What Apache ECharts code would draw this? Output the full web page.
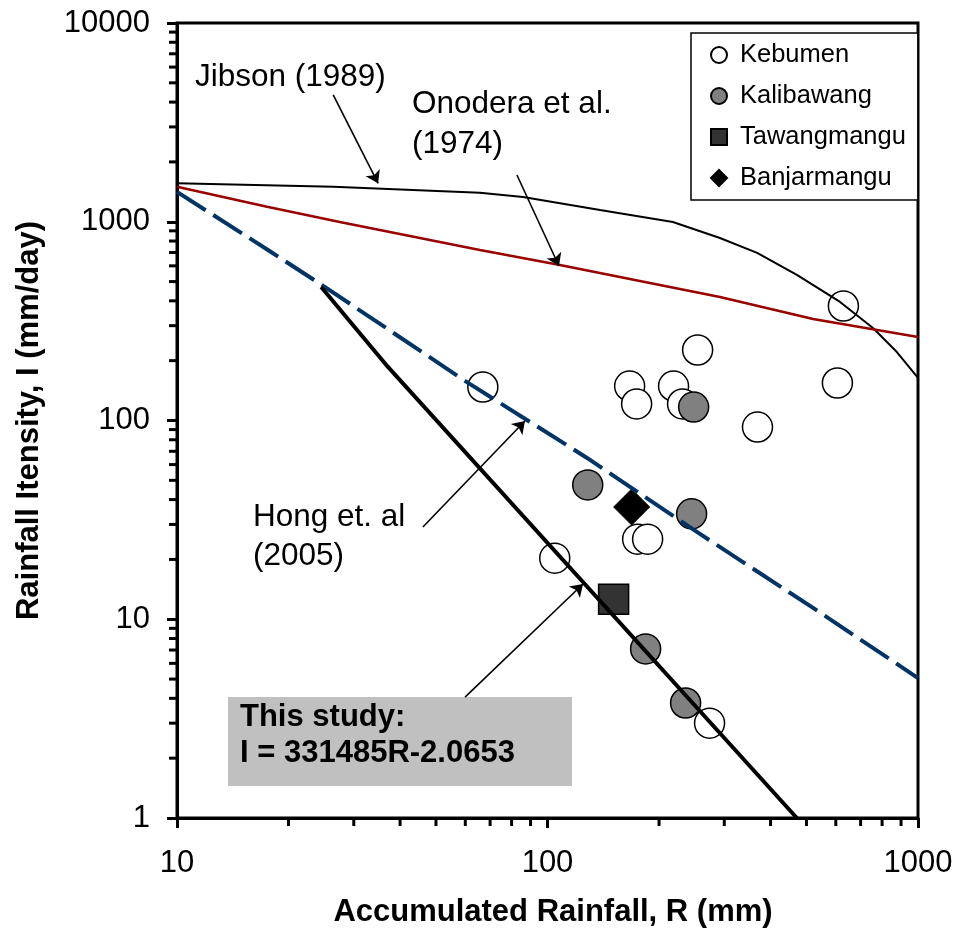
<!DOCTYPE html>
<html><head><meta charset="utf-8">
<script src="https://cdn.jsdelivr.net/npm/echarts@6/dist/echarts.min.js"></script>
<style>html,body{margin:0;padding:0;background:#fff}#c{width:957px;height:934px}</style>
</head><body><div id="c"></div>
<script>
const FONT = '"Liberation Sans", Arial, sans-serif';

// Observed points (R = accumulated rainfall mm, I = intensity mm/day)
const kebumenR = [66.9, 104.6, 166.6, 174.0, 218.9, 231.5, 254.2, 368.8, 606, 629, 175.1, 186.3, 273.8];
const kebumenI = [147.4, 20.3, 149.1, 121.1, 149.1, 121.1, 226.3, 92.7, 154.4, 376.8, 25.3, 25.3, 3.0];
const kalibawangR = [128.4, 244.9, 248, 184, 235.9];
const kalibawangI = [47.4, 33.9, 116.9, 7.09, 3.79];
const tawangmanguR = [150.8];
const tawangmanguI = [12.6];
const banjarmanguR = [168.7];
const banjarmanguI = [36.7];

// Threshold curves
const jibsonR = [10, 26.4, 65.7, 85.9, 138.6, 218, 292, 368, 471, 616, 756, 877, 1000];
const jibsonI = [1560, 1500, 1400, 1332, 1146, 997, 828, 697, 540, 395, 292, 221, 164];
const onoderaR = [10, 17.5, 27.5, 65.7, 108, 292, 521, 1000];
const onoderaI = [1500, 1190, 997, 721, 606, 418, 324, 263];
const hongR = [10, 17.6, 25.1, 60.6, 127.9, 253, 521, 1000];
const hongI = [1413, 721, 469, 156, 64.8, 27.5, 11.4, 5.06];
const studyR = [24.5, 37.1, 471];
const studyI = [470, 186, 1];

// Axis ticks
const xMajorTicks = [10, 100, 1000];
const yMajorTicks = [1, 10, 100, 1000, 10000];
const xMinorTicks = [20, 30, 40, 50, 60, 70, 80, 90, 200, 300, 400, 500, 600, 700, 800, 900];
const yMinorTicks = [2, 3, 4, 5, 6, 7, 8, 9, 20, 30, 40, 50, 60, 70, 80, 90,
  200, 300, 400, 500, 600, 700, 800, 900, 2000, 3000, 4000, 5000, 6000, 7000, 8000, 9000];

// Annotation arrows [fromR, fromI, toR, toI]
const arrowJibson = [26.4, 4345, 34.9, 1560];
const arrowOnodera = [82.7, 1718, 107.4, 599];
const arrowHong = [46.1, 29.1, 86.9, 99.4];
const arrowStudy = [59.9, 4.06, 124.7, 15.04];

const zip = (a, b) => a.map((v, i) => [v, b[i]]);
const arrowData = [arrowJibson, arrowOnodera, arrowHong, arrowStudy].map(a => [
  { coord: [a[0], a[1]] }, { coord: [a[2], a[3]] }
]);

const chart = echarts.init(document.getElementById('c'), null, { renderer: 'canvas' });
const axisTxt = { fontFamily: FONT, fontSize: 31, color: '#000', formatter: v => String(Math.round(v)) };

chart.setOption({
  animation: false,
  backgroundColor: '#fff',
  textStyle: { fontFamily: FONT },
  grid: { left: 177, right: 39, top: 23, bottom: 116, show: true, borderColor: '#000', borderWidth: 3 },
  xAxis: {
    type: 'log', logBase: 10, min: xMajorTicks[0], max: xMajorTicks[xMajorTicks.length - 1],
    axisLine: { lineStyle: { color: '#000', width: 3 } },
    axisTick: { inside: false, length: 10, lineStyle: { color: '#000', width: 3 } },
    axisLabel: Object.assign({ margin: 30, hideOverlap: false }, axisTxt),
    splitLine: { show: false },
    name: 'Accumulated Rainfall, R (mm)', nameLocation: 'middle', nameGap: 79,
    nameTextStyle: { fontFamily: FONT, fontSize: 31, fontWeight: 'bold', color: '#000', padding: [0, 0, 0, 11] }
  },
  yAxis: {
    type: 'log', logBase: 10, min: yMajorTicks[0], max: yMajorTicks[yMajorTicks.length - 1],
    axisLine: { lineStyle: { color: '#000', width: 3 } },
    axisTick: { inside: false, length: 10, lineStyle: { color: '#000', width: 3 } },
    axisLabel: Object.assign({ margin: 27, hideOverlap: false }, axisTxt),
    splitLine: { show: false },
    name: 'Rainfall Itensity, I (mm/day)', nameLocation: 'middle', nameGap: 132,
    nameTextStyle: { fontFamily: FONT, fontSize: 31, fontWeight: 'bold', color: '#000' }
  },
  legend: {
    orient: 'vertical', left: 691, top: 33, padding: [9, 12, 9, 19], itemGap: 15,
    itemWidth: 16, itemHeight: 16, backgroundColor: '#fff', borderColor: '#000', borderWidth: 1.5,
    selectedMode: false,
    textStyle: { fontFamily: FONT, fontSize: 25.5, color: '#000', lineHeight: 26, padding: [0, 0, 0, 8] },
    data: ['Kebumen', 'Kalibawang', 'Tawangmangu', 'Banjarmangu']
  },
  graphic: [
    { type: 'text', x: 195, y: 61, style: { text: 'Jibson (1989)', fontFamily: FONT, fontSize: 31.5, fill: '#000' } },
    { type: 'text', x: 412, y: 84, style: { text: 'Onodera et al.\n(1974)', fontFamily: FONT, fontSize: 31.5, lineHeight: 40, fill: '#000' } },
    { type: 'text', x: 253, y: 498, style: { text: 'Hong et. al\n(2005)', fontFamily: FONT, fontSize: 31.5, lineHeight: 39, fill: '#000' } },
    { type: 'rect', x: 228, y: 697, shape: { width: 344, height: 89 }, style: { fill: '#c0c0c0' } },
    { type: 'text', x: 240, y: 699, style: { text: 'This study:\nI = 331485R-2.0653', fontFamily: FONT, fontSize: 31, fontWeight: 'bold', lineHeight: 36, fill: '#000' } }
  ],
  series: [
    {
      type: 'line', data: zip(jibsonR, jibsonI), showSymbol: false, symbol: 'none', silent: true,
      lineStyle: { color: '#000', width: 2 },
      markLine: {
        silent: true, symbol: ['none', 'arrow'], symbolSize: 12,
        label: { show: false }, lineStyle: { color: '#000', width: 1.6, type: 'solid' },
        emphasis: { disabled: true }, data: arrowData
      }
    },
    { type: 'line', data: zip(onoderaR, onoderaI), symbol: 'none', silent: true, lineStyle: { color: '#990000', width: 2.5 } },
    { type: 'line', data: zip(hongR, hongI), symbol: 'none', silent: true, lineStyle: { color: '#003366', width: 4, type: [34, 9] } },
    { name: 'Kebumen', type: 'scatter', data: zip(kebumenR, kebumenI), symbol: 'circle', symbolSize: 30,
      itemStyle: { color: '#fff', borderColor: '#000', borderWidth: 1.5, opacity: 1 } },
    { name: 'Kalibawang', type: 'scatter', data: zip(kalibawangR, kalibawangI), symbol: 'circle', symbolSize: 30,
      itemStyle: { color: '#808080', borderColor: '#000', borderWidth: 1.5, opacity: 1 } },
    { name: 'Tawangmangu', type: 'scatter', data: zip(tawangmanguR, tawangmanguI), symbol: 'rect', symbolSize: 30,
      itemStyle: { color: '#333333', borderColor: '#000', borderWidth: 1.5, opacity: 1 } },
    { name: 'Banjarmangu', type: 'scatter', data: zip(banjarmanguR, banjarmanguI), symbol: 'diamond', symbolSize: 36,
      itemStyle: { color: '#000', borderColor: '#000', borderWidth: 1, opacity: 1 } },
    { type: 'line', data: zip(studyR, studyI), symbol: 'none', silent: true, lineStyle: { color: '#000', width: 4 } },
    {
      type: 'custom', silent: true, clip: false, z: 5,
      data: xMinorTicks.map(v => [v, yMajorTicks[0], 0]).concat(yMinorTicks.map(v => [xMajorTicks[0], v, 1])),
      encode: { x: 0, y: 1 },
      renderItem: function (params, api) {
        const p = api.coord([api.value(0), api.value(1)]);
        const vertical = api.value(2) === 0;
        return {
          type: 'line',
          shape: vertical ? { x1: p[0], y1: p[1], x2: p[0], y2: p[1] + 8 }
                          : { x1: p[0] - 8, y1: p[1], x2: p[0], y2: p[1] },
          style: { stroke: '#000', lineWidth: 3 }
        };
      }
    }
  ]
});
</script>
</body></html>
